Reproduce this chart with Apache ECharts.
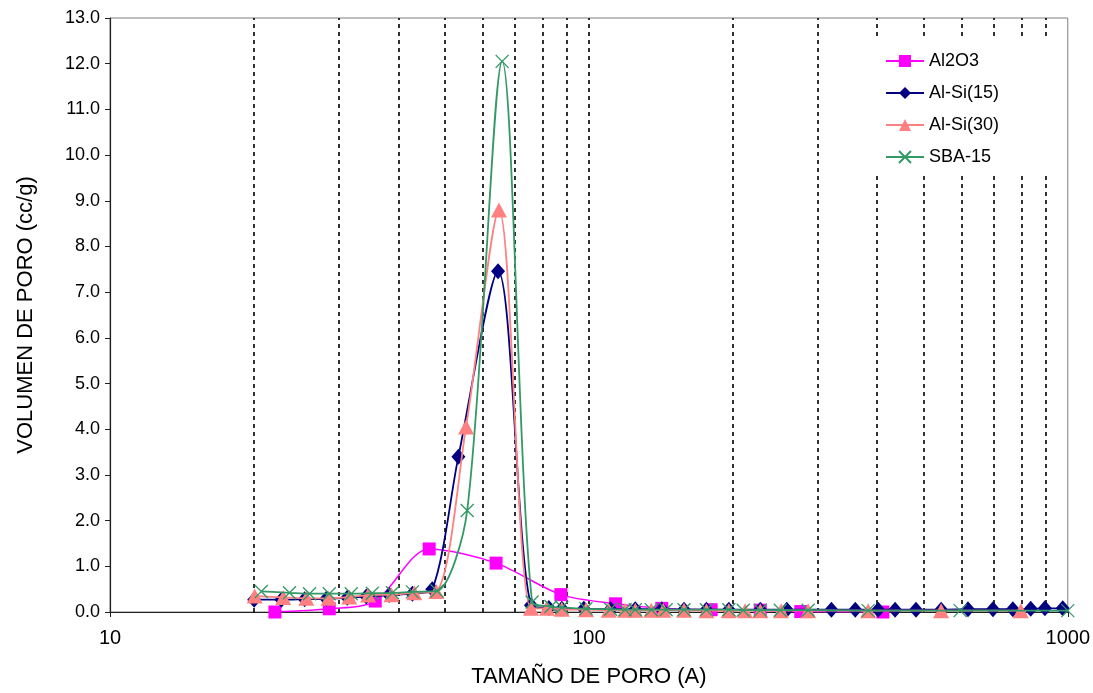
<!DOCTYPE html>
<html>
<head>
<meta charset="utf-8">
<script src="https://cdn.jsdelivr.net/npm/echarts@6/dist/echarts.min.js"></script>
<style>
  html, body { margin: 0; padding: 0; background: #fff; }
  #chart-container { width: 1093px; height: 693px; }
</style>
</head>
<body>
<div id="chart-container"></div>
<script>
var dom = document.getElementById("chart-container");
var myChart = echarts.init(dom, null, { renderer: "canvas" });

// pore size (A) and pore volume (cc/g)
var al2o3X = [22.1, 28.7, 35.8, 46.4, 64.0, 87.4, 113.7, 142, 180, 228, 277, 411];
var al2o3Y = [0.0, 0.07, 0.24, 1.38, 1.07, 0.38, 0.18, 0.08, 0.05, 0.04, 0.01, 0.0];

var alsi15X = [20, 22.8, 25.5, 28.3, 31.3, 34.3, 38.3, 42.8, 47.1, 53.4, 64.6, 75.7, 82.5, 87.8,
  97.6, 111, 125, 142, 158, 176, 196, 228, 259, 321, 360, 402, 436, 482, 544, 619, 698, 768,
  837, 896, 976];
var alsi15Y = [0.27, 0.27, 0.28, 0.29, 0.31, 0.34, 0.37, 0.40, 0.50, 3.40, 7.46, 0.15, 0.09, 0.07,
  0.07, 0.06, 0.06, 0.06, 0.05, 0.05, 0.05, 0.05, 0.05, 0.05, 0.05, 0.05, 0.05, 0.05, 0.05,
  0.06, 0.06, 0.06, 0.07, 0.08, 0.08];

var alsi30X = [20.05, 23.0, 25.7, 28.6, 31.6, 34.6, 38.7, 43.2, 48.0, 55.4, 64.9, 75.7, 81.8, 87.8,
  98.6, 110, 119, 125, 135, 143, 158, 176, 196, 212, 228, 252, 287, 383, 544, 798];
var alsi30Y = [0.35, 0.32, 0.30, 0.30, 0.33, 0.37, 0.38, 0.42, 0.45, 4.05, 8.8, 0.08, 0.08, 0.06,
  0.05, 0.04, 0.04, 0.04, 0.04, 0.04, 0.04, 0.03, 0.03, 0.03, 0.03, 0.03, 0.03, 0.03, 0.03, 0.03];

var sbaX = [20.7, 23.7, 26.1, 28.7, 31.9, 35.3, 38.9, 42.8, 48.2, 55.7, 65.9, 76.1, 83.3, 87.8,
  98.6, 111, 119, 125, 135, 145, 158, 176, 196, 210, 228, 251, 287, 383, 596, 1000];
var sbaY = [0.45, 0.42, 0.40, 0.40, 0.40, 0.41, 0.42, 0.44, 0.46, 2.22, 12.05, 0.22, 0.12, 0.10,
  0.07, 0.06, 0.05, 0.05, 0.05, 0.05, 0.05, 0.05, 0.05, 0.04, 0.04, 0.04, 0.04, 0.03, 0.03, 0.03];

// dashed vertical guides
var guideLines = [20, 30, 40, 50, 60, 70, 80, 90, 100, 200, 300, 400, 500, 600, 700, 800, 900];

function pairs(xs, ys) {
  return xs.map(function (x, i) { return [x, ys[i]]; });
}

var font = "Liberation Sans, Arial, sans-serif";
var crossPath = "path://M0,0L10,10M10,0L0,10";

var option = {
  animation: false,
  textStyle: { fontFamily: font },
  grid: {
    left: 110, right: 23, top: 18, bottom: 79,
    show: true, borderColor: "#808080", borderWidth: 1
  },
  legend: {
    orient: "vertical",
    left: 870, top: 38,
    z: 20,
    padding: [14, 52, 6, 15],
    backgroundColor: "#fff",
    itemWidth: 38, itemHeight: 15, itemGap: 14,
    textStyle: { fontSize: 18, color: "#000", fontFamily: font },
    data: ["Al2O3", "Al-Si(15)", "Al-Si(30)", "SBA-15"]
  },
  xAxis: {
    type: "log",
    logBase: 10,
    min: 10, max: 1000,
    name: "TAMAÑO DE PORO (A)",
    nameLocation: "middle",
    nameGap: 54,
    nameTextStyle: { fontSize: 22, color: "#000" },
    axisLine: { lineStyle: { color: "#202020", width: 1.2 } },
    axisTick: { show: true, length: 5, lineStyle: { color: "#202020" } },
    axisLabel: {
      fontSize: 20, color: "#000", margin: 16,
      formatter: function (v) { return String(Math.round(v)); }
    },
    splitLine: { show: false },
    minorTick: { show: false }
  },
  yAxis: {
    type: "value",
    min: 0, max: 13, interval: 1,
    name: "VOLUMEN DE PORO (cc/g)",
    nameLocation: "middle",
    nameGap: 73,
    nameTextStyle: { fontSize: 22, color: "#000" },
    axisLine: { show: true, lineStyle: { color: "#202020", width: 1.2 } },
    axisTick: { show: true, length: 5, lineStyle: { color: "#202020" } },
    axisLabel: {
      fontSize: 18, color: "#000", margin: 10,
      formatter: function (v) { return v.toFixed(1); }
    },
    splitLine: { show: false }
  },
  series: [
    {
      name: "guides",
      type: "line",
      data: [],
      silent: true,
      z: 1,
      markLine: {
        z: 1,
        silent: true,
        symbol: "none",
        label: { show: false },
        lineStyle: { color: "#000", type: [4, 4], width: 1.6 },
        data: guideLines.map(function (v) { return { xAxis: v }; })
      }
    },
    {
      name: "Al2O3",
      type: "line",
      smooth: 0.3,
      data: pairs(al2o3X, al2o3Y),
      symbol: "rect",
      symbolSize: 13,
      lineStyle: { color: "#FF00FF", width: 1.5 },
      itemStyle: { color: "#FF00FF" },
      z: 2
    },
    {
      name: "Al-Si(15)",
      type: "line",
      smooth: 0.3,
      data: pairs(alsi15X, alsi15Y),
      symbol: "diamond",
      symbolSize: [14, 16],
      lineStyle: { color: "#000080", width: 1.8 },
      itemStyle: { color: "#000080" },
      z: 3
    },
    {
      name: "Al-Si(30)",
      type: "line",
      smooth: 0.3,
      data: pairs(alsi30X, alsi30Y),
      symbol: "triangle",
      symbolSize: [16, 15],
      lineStyle: { color: "#FF8080", width: 1.8 },
      itemStyle: { color: "#FF8080" },
      z: 4
    },
    {
      name: "SBA-15",
      type: "line",
      smooth: 0.3,
      data: pairs(sbaX, sbaY),
      symbol: crossPath,
      symbolSize: 13,
      lineStyle: { color: "#339966", width: 1.8 },
      itemStyle: { color: "rgba(0,0,0,0)", borderColor: "#339966", borderWidth: 1.3 },
      z: 5
    }
  ]
};

myChart.setOption(option);

window.addEventListener("resize", function () {
  myChart.resize();
});
</script>
</body>
</html>
